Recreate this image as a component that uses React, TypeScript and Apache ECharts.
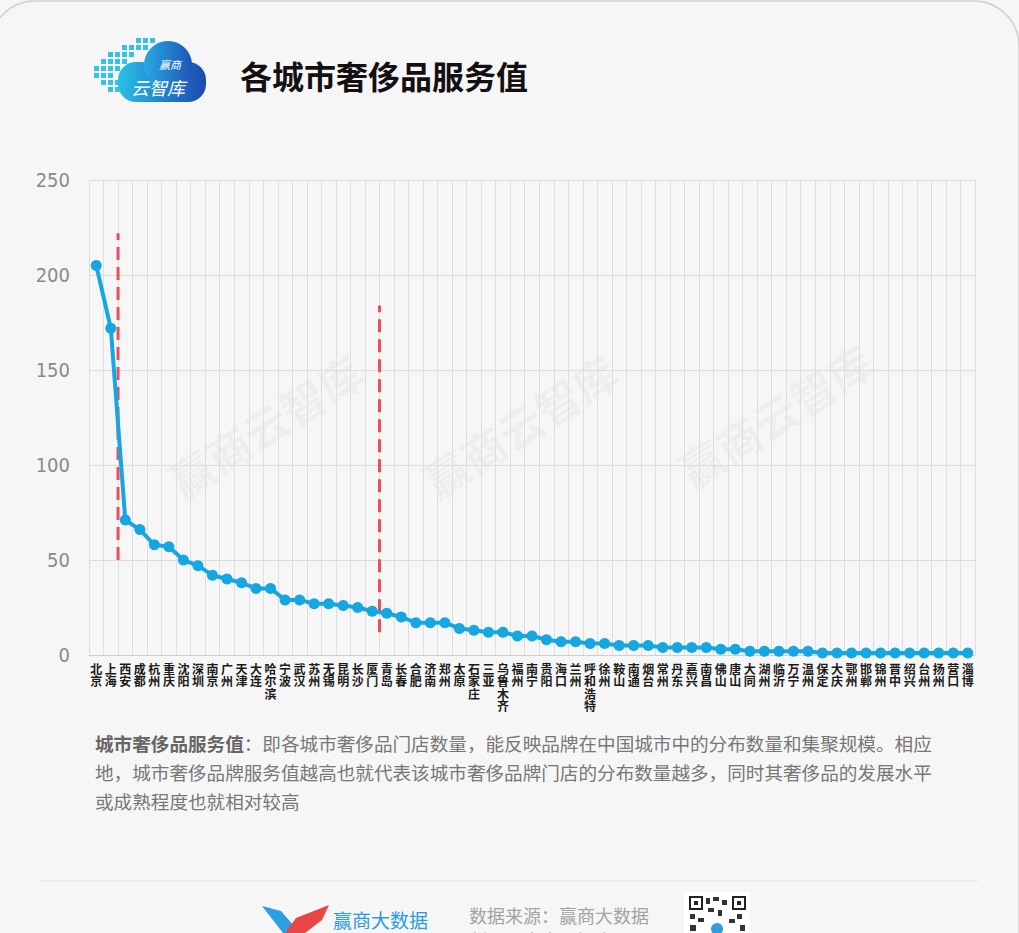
import React, { useEffect, useRef } from "react";
import * as echarts from "echarts";

const cities = ["北京","上海","西安","成都","杭州","重庆","沈阳","深圳","南京","广州","天津","大连","哈尔滨","宁波","武汉","苏州","无锡","昆明","长沙","厦门","青岛","长春","合肥","济南","郑州","太原","石家庄","三亚","乌鲁木齐","福州","南宁","贵阳","海口","兰州","呼和浩特","徐州","鞍山","南通","烟台","常州","丹东","嘉兴","南昌","佛山","唐山","大同","湖州","临沂","万宁","温州","保定","大庆","鄂州","邯郸","锦州","晋中","绍兴","台州","扬州","营口","淄博"];
const values = [205,172,71,66,58,57,50,47,42,40,38,35,35,29,29,27,27,26,25,23,22,20,17,17,17,14,13,12,12,10,10,8,7,7,6,6,5,5,5,4,4,4,4,3,3,2,2,2,2,2,1,1,1,1,1,1,1,1,1,1,1];
const yTicks = { min: 0, max: 250, interval: 50 };
// dashed separators: [category position, lower value, upper value]
const dividerA = [[1.5, 50], [1.5, 222]];
const dividerB = [[19.5, 12], [19.5, 184]];

const title = "各城市奢侈品服务值";
const noteBold = "城市奢侈品服务值";
const noteLines = [
  "：即各城市奢侈品门店数量，能反映品牌在中国城市中的分布数量和集聚规模。相应",
  "地，城市奢侈品牌服务值越高也就代表该城市奢侈品牌门店的分布数量越多，同时其奢侈品的发展水平",
  "或成熟程度也就相对较高",
];
const sourceLine1 = "数据来源：赢商大数据";
const sourceLine2 = "制图：赢商云智库";
const brand = "赢商大数据";
const watermark = "赢商云智库";

export default function App() {
  const ref = useRef<HTMLDivElement>(null);
  useEffect(() => {
    document.body.style.margin = "0";
    document.body.style.background = "#f6f6f6";
    const chart = echarts.init(ref.current!, null, { renderer: "svg" });

    const pixelSquares: any[] = [];
    const sq = [
      [136, 38], [143, 38], [150, 38],
      [122, 45], [129, 45], [136, 45], [143, 45],
      [108, 52], [115, 52], [122, 52], [129, 52],
      [101, 59], [108, 59], [115, 59], [122, 59],
      [94, 66], [101, 66], [108, 66], [115, 66],
      [94, 73], [101, 73], [108, 73],
      [101, 80], [108, 80], [115, 80],
      [108, 87], [115, 87],
    ];
    sq.forEach(([x, y]) =>
      pixelSquares.push({ type: "rect", shape: { x, y, width: 5, height: 5 }, style: { fill: "#33c3e6" } })
    );

    const wm = [
      [265, 425], [520, 425], [775, 415],
    ].map(([x, y]) => ({
      type: "text", x, y, rotation: Math.PI / 5.5, z: 0,
      style: { text: watermark, fill: "rgba(0,0,0,0.045)", font: "bold 44px 'Noto Sans CJK SC'", align: "center", verticalAlign: "middle" },
    }));

    const qr: any[] = [
      { type: "rect", shape: { x: 684, y: 892, width: 66, height: 45 }, style: { fill: "#fff" } },
      { type: "rect", shape: { x: 690, y: 897, width: 12, height: 12 }, style: { fill: "none", stroke: "#222", lineWidth: 2 } },
      { type: "rect", shape: { x: 733, y: 897, width: 12, height: 12 }, style: { fill: "none", stroke: "#222", lineWidth: 2 } },
      { type: "rect", shape: { x: 694, y: 901, width: 4, height: 4 }, style: { fill: "#222" } },
      { type: "rect", shape: { x: 737, y: 901, width: 4, height: 4 }, style: { fill: "#222" } },
      { type: "rect", shape: { x: 706, y: 898, width: 4, height: 6 }, style: { fill: "#333" } },
      { type: "rect", shape: { x: 713, y: 897, width: 6, height: 4 }, style: { fill: "#333" } },
      { type: "rect", shape: { x: 722, y: 900, width: 5, height: 5 }, style: { fill: "#333" } },
      { type: "rect", shape: { x: 708, y: 908, width: 6, height: 4 }, style: { fill: "#333" } },
      { type: "rect", shape: { x: 718, y: 910, width: 4, height: 6 }, style: { fill: "#333" } },
      { type: "rect", shape: { x: 690, y: 914, width: 5, height: 5 }, style: { fill: "#333" } },
      { type: "rect", shape: { x: 698, y: 918, width: 6, height: 4 }, style: { fill: "#333" } },
      { type: "rect", shape: { x: 737, y: 914, width: 5, height: 5 }, style: { fill: "#333" } },
      { type: "rect", shape: { x: 729, y: 919, width: 6, height: 4 }, style: { fill: "#333" } },
      { type: "rect", shape: { x: 690, y: 925, width: 6, height: 6 }, style: { fill: "#333" } },
      { type: "rect", shape: { x: 740, y: 925, width: 5, height: 6 }, style: { fill: "#333" } },
      { type: "circle", shape: { cx: 717, cy: 929, r: 6 }, style: { fill: "#2d9ee0" } },
    ];

    chart.setOption({
      animation: false,
      backgroundColor: "#f6f6f6",
      grid: { left: 89, right: 44, top: 180, bottom: 278, containLabel: false },
      xAxis: [
        {
          type: "category",
          data: cities,
          boundaryGap: true,
          axisLine: { lineStyle: { color: "#cfcfcf" } },
          axisTick: { show: false },
          splitLine: { show: true, lineStyle: { color: "#dedede", width: 1 } },
          axisLabel: {
            interval: 0,
            margin: 7,
            color: "#1a1a1a",
            fontWeight: "bold",
            fontSize: 12,
            lineHeight: 12.5,
            fontFamily: "'Noto Sans CJK SC'",
            verticalAlign: "top",
            formatter: (v: string) => v.split("").join("\n"),
          },
        },
        { type: "value", min: -0.5, max: 60.5, show: false, gridIndex: 0 },
      ],
      yAxis: {
        type: "value",
        min: yTicks.min,
        max: yTicks.max,
        interval: yTicks.interval,
        axisLine: { show: false },
        axisTick: { show: false },
        splitLine: { lineStyle: { color: "#dcdcdc", width: 1 } },
        axisLabel: {
          color: "#8a8a8a",
          fontSize: 20,
          margin: 19,
          fontFamily: "'DejaVu Sans Condensed', 'Liberation Sans Narrow', Roboto",
        },
      },
      series: [
        {
          type: "line",
          data: values,
          symbol: "circle",
          symbolSize: 11,
          lineStyle: { color: "#16a7e2", width: 4 },
          itemStyle: { color: "#16a7e2" },
          z: 5,
        },
        {
          type: "line",
          xAxisIndex: 1,
          data: dividerA,
          symbol: "none",
          lineStyle: { color: "#ea4d5c", width: 3, type: [13, 7] },
          z: 4,
        },
        {
          type: "line",
          xAxisIndex: 1,
          data: dividerB,
          symbol: "none",
          lineStyle: { color: "#ea4d5c", width: 3, type: [13, 7] },
          z: 4,
        },
      ],
      graphic: [
        { type: "rect", shape: { x: -10, y: 1, width: 1029, height: 1100, r: 45 }, style: { fill: "none", stroke: "#d0d0d0", lineWidth: 1.5 } },
        ...wm,
        // logo
        ...pixelSquares,
        {
          type: "rect",
          shape: { x: 118, y: 62, width: 88, height: 40, r: 18 },
          style: { fill: new echarts.graphic.LinearGradient(0, 0, 1, 0, [{ offset: 0, color: "#2bbfe8" }, { offset: 1, color: "#1a49b0" }]) },
        },
        {
          type: "circle",
          shape: { cx: 168, cy: 65, r: 24 },
          style: { fill: new echarts.graphic.LinearGradient(0, 0, 1, 0, [{ offset: 0, color: "#28a9e2" }, { offset: 1, color: "#1d55b8" }]) },
        },
        { type: "text", x: 170, y: 64, style: { text: "赢商", fill: "#fff", font: "italic 11px 'Noto Sans CJK SC'", align: "center", verticalAlign: "middle" } },
        { type: "text", x: 158, y: 87, style: { text: "云智库", fill: "#fff", font: "italic 18px 'Noto Sans CJK SC'", align: "center", verticalAlign: "middle" } },
        { type: "text", x: 240, y: 75, style: { text: title, fill: "#111", font: "bold 32px 'Noto Sans CJK SC'", verticalAlign: "middle" } },
        // note
        {
          type: "text", x: 95, y: 728,
          style: {
            text: `{b|${noteBold}}{n|${noteLines[0]}}\n{n|${noteLines[1]}}\n{n|${noteLines[2]}}`,
            verticalAlign: "top",
            rich: {
              b: { fill: "#666", font: "bold 18.6px 'Noto Sans CJK SC'", lineHeight: 29 },
              n: { fill: "#777", font: "18.6px 'Noto Sans CJK SC'", lineHeight: 29 },
            },
          },
        },
        { type: "line", shape: { x1: 40, y1: 881, x2: 978, y2: 881 }, style: { stroke: "#e2e2e2", lineWidth: 1 } },
        // footer logo
        { type: "polygon", shape: { points: [[262, 906], [281, 911], [300, 933], [283, 933]] }, style: { fill: "#2c9fe3" } },
        { type: "polygon", shape: { points: [[329, 905], [322, 920], [305, 933], [285, 933], [296, 918]] }, style: { fill: "#e94545" } },
        { type: "text", x: 333, y: 919, style: { text: brand, fill: "#2a9be0", font: "19px 'Noto Sans CJK SC'", verticalAlign: "middle" } },
        { type: "text", x: 469, y: 915, style: { text: sourceLine1, fill: "#a3a3a3", font: "18px 'Noto Sans CJK SC'", verticalAlign: "middle" } },
        { type: "text", x: 469, y: 940, style: { text: sourceLine2, fill: "#a3a3a3", font: "18px 'Noto Sans CJK SC'", verticalAlign: "middle" } },
        ...qr,
      ],
    });
    return () => chart.dispose();
  }, []);
  return <div ref={ref} style={{ position: "absolute", left: 0, top: 0, width: 1019, height: 933 }} />;
}
